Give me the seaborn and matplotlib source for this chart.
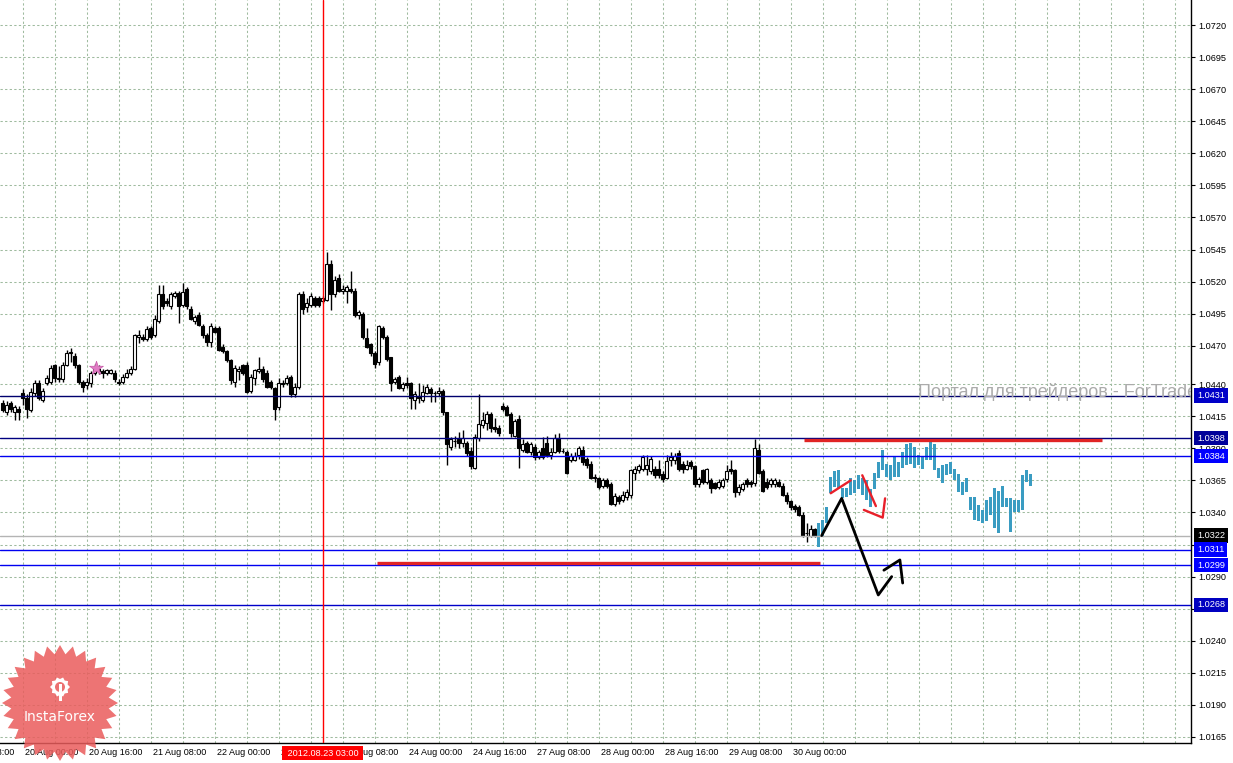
import numpy as np
import pandas as pd
import matplotlib
matplotlib.use("Agg")
import matplotlib.pyplot as plt
import matplotlib.transforms as mtransforms
from matplotlib.patches import Polygon, Circle
import seaborn as sns

# ---------------- data (H1 candles) ----------------
opens = [
    1.0425, 1.0418, 1.0425, 1.0418, 1.0421, 1.0433, 1.0429, 1.0420, 1.0433, 1.0441,
    1.0428, 1.0441, 1.0442, 1.0455, 1.0444, 1.0444, 1.0455, 1.0464, 1.0462, 1.0455,
    1.0442, 1.0439, 1.0441, 1.0449, 1.0452, 1.0450, 1.0449, 1.0449, 1.0449, 1.0442,
    1.0442, 1.0446, 1.0449, 1.0452, 1.0477, 1.0477, 1.0475, 1.0484, 1.0478, 1.0489,
    1.0510, 1.0505, 1.0501, 1.0509, 1.0511, 1.0502, 1.0514, 1.0499, 1.0489, 1.0494,
    1.0485, 1.0478, 1.0473, 1.0484, 1.0484, 1.0469, 1.0466, 1.0459, 1.0442, 1.0450,
    1.0455, 1.0455, 1.0435, 1.0445, 1.0450, 1.0452, 1.0449, 1.0442, 1.0437, 1.0422,
    1.0441, 1.0441, 1.0446, 1.0432, 1.0438, 1.0510, 1.0500, 1.0502, 1.0507, 1.0507,
    1.0505, 1.0506, 1.0534, 1.0510, 1.0523, 1.0513, 1.0513, 1.0514, 1.0513, 1.0494,
    1.0495, 1.0476, 1.0471, 1.0464, 1.0457, 1.0484, 1.0477, 1.0461, 1.0442, 1.0446,
    1.0437, 1.0441, 1.0441, 1.0428, 1.0431, 1.0428, 1.0433, 1.0436, 1.0433, 1.0433,
    1.0435, 1.0418, 1.0391, 1.0396, 1.0397, 1.0394, 1.0394, 1.0388, 1.0375, 1.0398,
    1.0408, 1.0410, 1.0417, 1.0407, 1.0406, 1.0423, 1.0422, 1.0417, 1.0400, 1.0413,
    1.0389, 1.0394, 1.0387, 1.0391, 1.0383, 1.0390, 1.0394, 1.0385, 1.0387, 1.0398,
    1.0388, 1.0387, 1.0381, 1.0381, 1.0385, 1.0389, 1.0382, 1.0378, 1.0368, 1.0367,
    1.0361, 1.0365, 1.0362, 1.0347, 1.0352, 1.0350, 1.0352, 1.0354, 1.0371, 1.0373,
    1.0374, 1.0374, 1.0372, 1.0374, 1.0374, 1.0370, 1.0367, 1.0381, 1.0381, 1.0386,
    1.0378, 1.0374, 1.0379, 1.0376, 1.0362, 1.0373, 1.0364, 1.0365, 1.0363, 1.0360,
    1.0361, 1.0366, 1.0374, 1.0373, 1.0356, 1.0358, 1.0365, 1.0364, 1.0363, 1.0389,
    1.0372, 1.0364, 1.0362, 1.0362, 1.0364, 1.0361, 1.0354, 1.0349, 1.0345, 1.0344,
    1.0338, 1.0324, 1.0322, 1.0327,
]
highs = [
    1.0428, 1.0427, 1.0427, 1.0424, 1.0423, 1.0436, 1.0432, 1.0437, 1.0443, 1.0443,
    1.0437, 1.0447, 1.0455, 1.0456, 1.0454, 1.0457, 1.0467, 1.0468, 1.0464, 1.0456,
    1.0443, 1.0445, 1.0450, 1.0456, 1.0455, 1.0452, 1.0452, 1.0452, 1.0451, 1.0444,
    1.0448, 1.0452, 1.0454, 1.0479, 1.0482, 1.0479, 1.0485, 1.0485, 1.0494, 1.0517,
    1.0517, 1.0507, 1.0512, 1.0513, 1.0513, 1.0519, 1.0516, 1.0501, 1.0494, 1.0496,
    1.0487, 1.0480, 1.0488, 1.0485, 1.0485, 1.0471, 1.0467, 1.0460, 1.0455, 1.0454,
    1.0456, 1.0457, 1.0448, 1.0452, 1.0461, 1.0454, 1.0451, 1.0443, 1.0438, 1.0445,
    1.0443, 1.0447, 1.0447, 1.0441, 1.0512, 1.0513, 1.0507, 1.0511, 1.0509, 1.0509,
    1.0509, 1.0543, 1.0537, 1.0524, 1.0526, 1.0517, 1.0517, 1.0528, 1.0515, 1.0498,
    1.0496, 1.0484, 1.0472, 1.0466, 1.0486, 1.0485, 1.0478, 1.0461, 1.0446, 1.0447,
    1.0442, 1.0446, 1.0442, 1.0435, 1.0441, 1.0439, 1.0440, 1.0438, 1.0435, 1.0438,
    1.0436, 1.0418, 1.0399, 1.0400, 1.0403, 1.0404, 1.0396, 1.0391, 1.0401, 1.0432,
    1.0418, 1.0419, 1.0418, 1.0414, 1.0408, 1.0425, 1.0424, 1.0418, 1.0413, 1.0416,
    1.0397, 1.0396, 1.0395, 1.0393, 1.0389, 1.0399, 1.0400, 1.0390, 1.0401, 1.0402,
    1.0390, 1.0389, 1.0386, 1.0387, 1.0392, 1.0392, 1.0383, 1.0380, 1.0370, 1.0368,
    1.0367, 1.0367, 1.0364, 1.0355, 1.0354, 1.0357, 1.0358, 1.0374, 1.0376, 1.0378,
    1.0385, 1.0385, 1.0384, 1.0376, 1.0381, 1.0372, 1.0385, 1.0387, 1.0386, 1.0389,
    1.0380, 1.0381, 1.0381, 1.0377, 1.0368, 1.0374, 1.0375, 1.0367, 1.0364, 1.0366,
    1.0367, 1.0377, 1.0381, 1.0374, 1.0362, 1.0364, 1.0367, 1.0365, 1.0397, 1.0393,
    1.0374, 1.0367, 1.0367, 1.0367, 1.0366, 1.0363, 1.0356, 1.0350, 1.0347, 1.0346,
    1.0340, 1.0332, 1.0330, 1.0328,
]
lows = [
    1.0418, 1.0416, 1.0418, 1.0412, 1.0412, 1.0424, 1.0414, 1.0418, 1.0431, 1.0428,
    1.0426, 1.0439, 1.0440, 1.0442, 1.0442, 1.0442, 1.0454, 1.0457, 1.0453, 1.0440,
    1.0434, 1.0436, 1.0438, 1.0447, 1.0448, 1.0445, 1.0447, 1.0448, 1.0442, 1.0439,
    1.0440, 1.0445, 1.0447, 1.0451, 1.0472, 1.0474, 1.0474, 1.0475, 1.0477, 1.0488,
    1.0499, 1.0501, 1.0499, 1.0507, 1.0488, 1.0500, 1.0499, 1.0490, 1.0487, 1.0485,
    1.0476, 1.0470, 1.0469, 1.0480, 1.0466, 1.0464, 1.0457, 1.0440, 1.0438, 1.0443,
    1.0447, 1.0433, 1.0433, 1.0439, 1.0449, 1.0442, 1.0437, 1.0436, 1.0412, 1.0420,
    1.0438, 1.0439, 1.0430, 1.0430, 1.0436, 1.0495, 1.0496, 1.0500, 1.0500, 1.0500,
    1.0503, 1.0505, 1.0498, 1.0508, 1.0512, 1.0510, 1.0503, 1.0511, 1.0492, 1.0491,
    1.0475, 1.0468, 1.0462, 1.0453, 1.0455, 1.0475, 1.0458, 1.0435, 1.0440, 1.0436,
    1.0435, 1.0437, 1.0421, 1.0421, 1.0425, 1.0426, 1.0432, 1.0426, 1.0426, 1.0431,
    1.0416, 1.0377, 1.0389, 1.0391, 1.0390, 1.0391, 1.0384, 1.0374, 1.0374, 1.0396,
    1.0406, 1.0404, 1.0403, 1.0403, 1.0400, 1.0419, 1.0415, 1.0399, 1.0399, 1.0375,
    1.0387, 1.0386, 1.0385, 1.0381, 1.0382, 1.0382, 1.0383, 1.0382, 1.0386, 1.0386,
    1.0386, 1.0370, 1.0379, 1.0380, 1.0382, 1.0377, 1.0375, 1.0366, 1.0364, 1.0358,
    1.0359, 1.0359, 1.0346, 1.0345, 1.0347, 1.0348, 1.0350, 1.0351, 1.0365, 1.0371,
    1.0372, 1.0369, 1.0370, 1.0367, 1.0367, 1.0364, 1.0366, 1.0376, 1.0378, 1.0372,
    1.0371, 1.0373, 1.0374, 1.0360, 1.0360, 1.0362, 1.0362, 1.0355, 1.0358, 1.0358,
    1.0359, 1.0364, 1.0370, 1.0352, 1.0354, 1.0357, 1.0360, 1.0360, 1.0361, 1.0370,
    1.0356, 1.0358, 1.0360, 1.0360, 1.0360, 1.0353, 1.0347, 1.0342, 1.0340, 1.0337,
    1.0321, 1.0317, 1.0321, 1.0321,
]
closes = [
    1.0420, 1.0424, 1.0421, 1.0422, 1.0418, 1.0429, 1.0421, 1.0434, 1.0441, 1.0429,
    1.0435, 1.0445, 1.0453, 1.0445, 1.0445, 1.0455, 1.0464, 1.0465, 1.0455, 1.0442,
    1.0438, 1.0442, 1.0449, 1.0452, 1.0450, 1.0449, 1.0451, 1.0451, 1.0444, 1.0441,
    1.0446, 1.0449, 1.0452, 1.0478, 1.0478, 1.0475, 1.0483, 1.0477, 1.0491, 1.0510,
    1.0501, 1.0503, 1.0510, 1.0511, 1.0501, 1.0512, 1.0501, 1.0491, 1.0492, 1.0486,
    1.0478, 1.0473, 1.0485, 1.0481, 1.0467, 1.0466, 1.0459, 1.0443, 1.0453, 1.0452,
    1.0449, 1.0434, 1.0446, 1.0451, 1.0452, 1.0444, 1.0438, 1.0438, 1.0421, 1.0441,
    1.0440, 1.0445, 1.0432, 1.0438, 1.0510, 1.0499, 1.0503, 1.0509, 1.0502, 1.0502,
    1.0507, 1.0534, 1.0510, 1.0521, 1.0513, 1.0514, 1.0516, 1.0513, 1.0494, 1.0496,
    1.0477, 1.0469, 1.0464, 1.0456, 1.0485, 1.0477, 1.0460, 1.0441, 1.0444, 1.0437,
    1.0440, 1.0439, 1.0429, 1.0432, 1.0429, 1.0434, 1.0438, 1.0433, 1.0433, 1.0435,
    1.0418, 1.0393, 1.0397, 1.0396, 1.0394, 1.0398, 1.0386, 1.0376, 1.0399, 1.0409,
    1.0412, 1.0417, 1.0406, 1.0405, 1.0402, 1.0421, 1.0416, 1.0402, 1.0411, 1.0390,
    1.0393, 1.0387, 1.0393, 1.0383, 1.0387, 1.0383, 1.0385, 1.0387, 1.0398, 1.0388,
    1.0388, 1.0371, 1.0384, 1.0384, 1.0390, 1.0379, 1.0377, 1.0367, 1.0367, 1.0360,
    1.0365, 1.0361, 1.0347, 1.0353, 1.0349, 1.0354, 1.0356, 1.0373, 1.0374, 1.0376,
    1.0383, 1.0377, 1.0382, 1.0369, 1.0369, 1.0366, 1.0380, 1.0383, 1.0384, 1.0374,
    1.0374, 1.0377, 1.0376, 1.0362, 1.0366, 1.0364, 1.0374, 1.0359, 1.0359, 1.0364,
    1.0365, 1.0372, 1.0372, 1.0356, 1.0360, 1.0362, 1.0362, 1.0362, 1.0390, 1.0371,
    1.0357, 1.0360, 1.0365, 1.0365, 1.0361, 1.0354, 1.0349, 1.0344, 1.0343, 1.0338,
    1.0322, 1.0324, 1.0327, 1.0322,
]

# forecast bars (drawn after the last real candle)
fc_high = [
    1.0332, 1.0334, 1.0344, 1.0368, 1.0372, 1.0373, 1.0359, 1.0359, 1.0367, 1.0365,
    1.0369, 1.0367, 1.0365, 1.0358, 1.0371, 1.0379, 1.0389, 1.0378, 1.0377, 1.0383,
    1.0379, 1.0387, 1.0393, 1.0394, 1.0391, 1.0385, 1.0383, 1.0391, 1.0395, 1.0393,
    1.0375, 1.0377, 1.0378, 1.0379, 1.0374, 1.0370, 1.0364, 1.0367, 1.0352, 1.0352,
    1.0346, 1.0342, 1.0350, 1.0352, 1.0359, 1.0357, 1.0361, 1.0351, 1.0351, 1.0350,
    1.0350, 1.0369, 1.0373, 1.0370,
]
fc_low = [
    1.0313, 1.0321, 1.0332, 1.0355, 1.0360, 1.0359, 1.0351, 1.0352, 1.0354, 1.0355,
    1.0358, 1.0354, 1.0350, 1.0344, 1.0358, 1.0367, 1.0373, 1.0368, 1.0365, 1.0368,
    1.0368, 1.0375, 1.0377, 1.0378, 1.0375, 1.0377, 1.0374, 1.0381, 1.0381, 1.0373,
    1.0367, 1.0363, 1.0369, 1.0370, 1.0365, 1.0356, 1.0354, 1.0356, 1.0342, 1.0334,
    1.0333, 1.0332, 1.0333, 1.0338, 1.0328, 1.0324, 1.0344, 1.0344, 1.0325, 1.0340,
    1.0340, 1.0342, 1.0364, 1.0361,
]

# time axis labels (bar index -> label)
time_idx = [-11, 5, 21, 37, 53, 69, 85, 101, 117, 133, 149, 165, 181, 197]
time_labels = ["17 Aug 08:00", "20 Aug 00:00", "20 Aug 16:00", "21 Aug 08:00",
               "22 Aug 00:00", "22 Aug 16:00", "23 Aug 08:00", "24 Aug 00:00",
               "24 Aug 16:00", "27 Aug 08:00", "28 Aug 00:00", "28 Aug 16:00",
               "29 Aug 08:00", "30 Aug 00:00"]
price_ticks = [1.0720, 1.0695, 1.0670, 1.0645, 1.0620, 1.0595, 1.0570, 1.0545,
               1.0520, 1.0495, 1.0470, 1.0440, 1.0415, 1.0390, 1.0365, 1.0340,
               1.0315, 1.0290, 1.0265, 1.0240, 1.0215, 1.0190, 1.0165]

# horizontal levels: price, line colour, label box colour
level_prices = [1.0431, 1.0398, 1.0384, 1.0322, 1.0311, 1.0299, 1.0268]
level_colors = ["#00006e", "#000080", "#0000f0", "#b4b4b4", "#0000f0", "#0000f0", "#0000c8"]
level_boxes = ["#0000c8", "#00009a", "#0000ff", "#000000", "#0000ff", "#0000ff", "#0000c0"]

cursor_idx = 80
cursor_label = "2012.08.23 03:00"

# hand drawn annotations
res_price, res_from, res_to = 1.03965, 200.3, 274.8
sup_price, sup_from, sup_to = 1.03006, 93.6, 204.3
zig1_x = [204.75, 209.75, 218.9, 222.25]
zig1_y = [1.0322, 1.0351, 1.02757, 1.0290]
zig2_x = [220.3, 224.3, 225.0]
zig2_y = [1.0295, 1.0303, 1.0285]
red1_x, red1_y = [207.0, 212.0], [1.0355, 1.0365]
red2_x, red2_y = [214.9, 218.3], [1.0369, 1.0345]
red3_x, red3_y = [215.3, 220.0, 220.6], [1.0342, 1.0336, 1.0351]
star_x, star_y = [23.3], [1.0453]

watermark = "Портал для трейдеров - ForTrader.ru"

# ---------------- figure ----------------
sns.set_style("white")
plt.rcParams['font.family'] = ['Liberation Sans', 'DejaVu Sans']

W, H = 1233, 763
fig = plt.figure(figsize=(W / 100, H / 100), dpi=100)
ax = fig.add_axes([0, 20 / H, 1191 / W, 743 / H])
ax.set_facecolor("white")

ax.set_xlim(-0.675, 297.08)
ax.set_ylim(1.01603, 1.07395)

GRID = "#9fbb9f"
for g in np.arange(-3, 300, 8):
    ax.axvline(g, color=GRID, lw=0.75, ls=(0, (2.2, 2.2)), zorder=0)
for p in price_ticks:
    ax.axhline(p, color=GRID, lw=0.75, ls=(0, (2.2, 2.2)), zorder=0)

df = pd.DataFrame(dict(x=np.arange(len(opens)), o=opens, h=highs, l=lows, c=closes))
bull = df.c >= df.o
ax.vlines(df.x, df.l, df.h, color="black", lw=1.0, zorder=3)
ax.bar(df.x[bull], (df.c - df.o)[bull], bottom=df.o[bull], width=0.62,
       color="white", edgecolor="black", lw=0.8, zorder=4)
ax.bar(df.x[~bull], (df.c - df.o)[~bull], bottom=df.o[~bull], width=0.62,
       color="black", edgecolor="black", lw=0.8, zorder=4)

fx = np.arange(len(opens), len(opens) + len(fc_high))
ax.bar(fx, np.array(fc_high) - np.array(fc_low), bottom=fc_low, width=0.72,
       color="#3a9cc2", edgecolor="none", zorder=4)

# levels
for p, c in zip(level_prices, level_colors):
    ax.axhline(p, color=c, lw=1.0, zorder=5)

ax.axvline(cursor_idx, color="#ff0000", lw=1.0, zorder=5)

ax.hlines(res_price, res_from, res_to, color="#e02424", lw=2.4, zorder=6)
ax.hlines(sup_price, sup_from, sup_to, color="#e02424", lw=2.4, zorder=6)

for xx, yy, col, w in [(zig1_x, zig1_y, "black", 2.0), (zig2_x, zig2_y, "black", 2.0),
                       (red1_x, red1_y, "#e8202a", 1.7), (red2_x, red2_y, "#e8202a", 1.7),
                       (red3_x, red3_y, "#e8202a", 1.7)]:
    sns.lineplot(x=xx, y=yy, sort=False, estimator=None, color=col, lw=w, ax=ax,
                 legend=False, zorder=7)

sns.scatterplot(x=star_x, y=star_y, marker="*", s=110, color="#e07cc4",
                edgecolor="#c85aa8", linewidth=0.5, ax=ax, zorder=7, legend=False)

ax.text(918 / 1191, 1 - 392 / 743, watermark, transform=ax.transAxes,
        fontsize=13, color="#ababab", ha="left", va="center", clip_on=True, zorder=6)

# axes styling
for s in ["left", "top"]:
    ax.spines[s].set_visible(False)
for s in ["right", "bottom"]:
    ax.spines[s].set_visible(True)
    ax.spines[s].set_color("black")
    ax.spines[s].set_linewidth(1.0)
ax.yaxis.tick_right()
ax.set_yticks(price_ticks)
ax.set_yticklabels([f"{p:.4f}" for p in price_ticks])
ax.tick_params(axis="y", which="both", right=True, left=False, length=3, width=0.8,
               pad=2, labelsize=6.6, colors="black", direction="out")
ax.set_xticks([t for t in time_idx if t >= 0])
ax.set_xticklabels([])
ax.tick_params(axis="x", length=3, width=0.8, colors="black", direction="out")
ax.set_xlabel("")
ax.set_ylabel("")

blend = mtransforms.blended_transform_factory(ax.transData, ax.transAxes)
for t, lab in zip(time_idx, time_labels):
    ax.annotate(lab, xy=(t, 0), xycoords=blend, xytext=(2, -5), textcoords="offset pixels",
                ha="left", va="top", fontsize=6.5, color="black", annotation_clip=False)

ax.annotate(" " + cursor_label + " ", xy=(cursor_idx, 0), xycoords=blend, xytext=(0, -10),
            textcoords="offset pixels", ha="center", va="center", fontsize=6.6, color="white",
            bbox=dict(boxstyle="square,pad=0.25", fc="#ff0000", ec="none"),
            annotation_clip=False, zorder=10)

for p, bc in zip(level_prices, level_boxes):
    ax.annotate(f"{p:.4f}", xy=(1.0, p), xycoords=("axes fraction", "data"),
                xytext=(6, 0), textcoords="offset pixels", ha="left", va="center",
                fontsize=6.6, color="white",
                bbox=dict(boxstyle="square,pad=0.3", fc=bc, ec="none"),
                annotation_clip=False, zorder=10)

# InstaForex badge (pixel coordinates)
cx, cy = 60, H - 703
n = 28
ang = np.linspace(0, 2 * np.pi, 2 * n, endpoint=False) + np.pi / 2
rad = np.where(np.arange(2 * n) % 2 == 0, 58, 49)
pts = np.c_[cx + rad * np.cos(ang), cy + rad * np.sin(ang)]
fig.patches.append(Polygon(pts, closed=True, transform=mtransforms.IdentityTransform(),
                           fc="#ea5c5c", ec="none", alpha=0.85, zorder=5))
g_ang = np.linspace(0, 2 * np.pi, 20, endpoint=False)
g_rad = np.where(np.arange(20) % 2 == 0, 10, 8)
gcx, gcy = 60, H - 687
gpts = np.c_[gcx + g_rad * np.cos(g_ang), gcy + g_rad * np.sin(g_ang)]
fig.patches.append(Polygon(gpts, closed=True, transform=mtransforms.IdentityTransform(),
                           fc="white", ec="none", zorder=6))
fig.patches.append(Circle((gcx, gcy), 5, transform=mtransforms.IdentityTransform(),
                          fc="#ec7272", ec="none", zorder=7))
fig.patches.append(Polygon([[gcx - 1.5, gcy + 3], [gcx + 1.5, gcy + 3], [gcx + 1.5, gcy - 14],
                            [gcx - 1.5, gcy - 14]], closed=True,
                           transform=mtransforms.IdentityTransform(), fc="white", ec="none", zorder=8))
fig.text(cx / W, (H - 717) / H, "InstaForex", ha="center", va="center", color="white",
         fontsize=10, family="DejaVu Sans", zorder=9)

fig.savefig("out.png", dpi=100, facecolor="white")
